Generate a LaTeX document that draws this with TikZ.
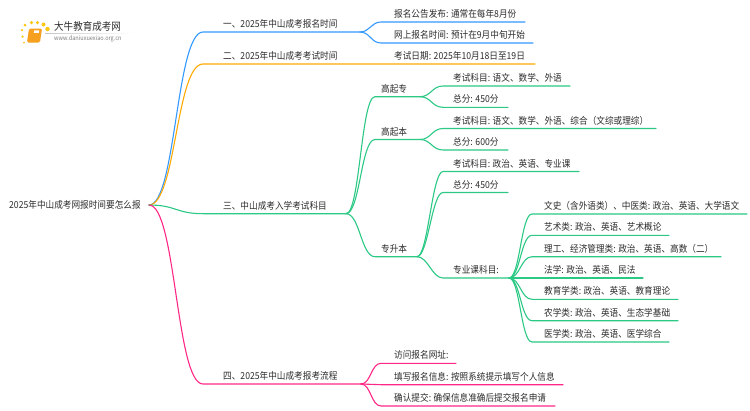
\documentclass[tikz,border=0pt]{standalone}
\usepackage{fontspec}
\setmainfont[FakeStretch=0.9]{Noto Sans CJK SC}
\usetikzlibrary{arrows}

\definecolor{lineblue}{RGB}{51,153,255}
\definecolor{lineorange}{RGB}{255,170,0}
\definecolor{linegreen}{RGB}{43,201,133}
\definecolor{linepink}{RGB}{255,40,135}
\definecolor{textgrey}{RGB}{45,45,45}
\definecolor{logoorange}{RGB}{245,160,30}

\tikzset{
  lbl/.style={anchor=west, inner sep=0pt, text=textgrey, font=\fontsize{9.6}{9.6}\selectfont},
  branch/.style={line width=1.1pt, line cap=round},
  sundot/.style={circle, inner sep=0pt, minimum size=#1, fill=logoorange!60!yellow}
}

\begin{document}
\begin{tikzpicture}[x=1pt,y=-1pt]

    \useasboundingbox (0,0) rectangle (750,410);
    \fill[white] (0,0) rectangle (750,410);

    % logo
    \foreach \name/\x/\y/\d in {s1/22/30/2.5pt, s2/25/25/3pt, s3/31.5/22.5/3.5pt, s4/37.5/22.5/3.5pt,
                                s5/43.5/24.5/4pt, s6/47.5/29/4.5pt, s7/22.5/36.5/2.5pt, s8/24/42.5/2pt}
      \node[sundot=\d] (\name) at (\x,\y) {};
    \node[draw=none,
          fill = logoorange,
          rounded corners = 1.5pt,
          xslant = 0.15,
          minimum width = 13pt,
          minimum height = 14pt,
          inner sep = 0pt] (book) at (34.5,35.5) {};
    \node[fill = white,
          xslant = 0.15,
          minimum width = 5pt,
          minimum height = 2.5pt,
          inner sep = 0pt] (bookmark) at (36.5,31.5) {};
    \node[lbl, font=\fontsize{10.6}{10.6}\selectfont] (logotext) at (54,26.5) {大牛教育成考网};
    \node[lbl, text=gray, font=\fontsize{6.2}{6.2}\selectfont] (logourl) at (54,38.5) {www.daniuxuexiao.org.cn};
    \coordinate (logol) at (45,33);
    \coordinate (logor) at (133,33);
    \shade[left color=gray!45, right color=white] (logol) rectangle ([yshift=-0.6pt]logor);

    % root
    \node[lbl] (root) at (9,205) {2025年中山成考网报时间要怎么报};
    \coordinate (rootr) at (149,205);

    % main branches
    \foreach \name/\y/\xs/\xe/\col/\txt in {
        one/32/203/360/lineblue/一、2025年中山成考报名时间,
        two/64/203/535/lineorange/二、2025年中山成考考试时间,
        three/213.7/203/346/linegreen/三、中山成考入学考试科目,
        four/384/203/361/linepink/四、2025年中山成考报考流程} {
      \node[lbl] (\name) at (223,\y-8) {\txt};
      \coordinate (\name s) at (\xs,\y);
      \coordinate (\name e) at (\xe,\y);
      \draw[branch,\col] (rootr) .. controls +(27,0) and +(-27,0) .. (\name s) -- (\name e);
    }
    \node[lbl] (exam) at (394,56) {考试日期: 2025年10月18日至19日};

    % first branch
    \foreach \name/\y/\xe/\txt in {
        notice/22/525/报名公告发布: 通常在每年8月份,
        online/43/533/网上报名时间: 预计在9月中旬开始} {
      \node[lbl] (\name) at (394,\y-8) {\txt};
      \coordinate (\name s) at (381,\y);
      \coordinate (\name e) at (\xe,\y);
      \draw[branch,lineblue] (onee) .. controls +(10,0) and +(-10,0) .. (\name s) -- (\name e);
    }

    % third branch
    \foreach \name/\y/\xe/\txt in {
        gqz/96.7/420/高起专,
        gqb/139.5/420/高起本,
        zsb/256.7/417/专升本} {
      \node[lbl] (\name) at (381,\y-8) {\txt};
      \coordinate (\name s) at (375,\y);
      \coordinate (\name e) at (\xe,\y);
      \draw[branch,linegreen] (threee) .. controls +(14,0) and +(-14,0) .. (\name s) -- (\name e);
    }

    \foreach \name/\from/\y/\xe/\txt in {
        gqza/gqze/86/570/考试科目: 语文、数学、外语,
        gqzb/gqze/107.3/508/总分: 450分,
        gqba/gqbe/128.5/656/考试科目: 语文、数学、外语、综合（文综或理综）,
        gqbb/gqbe/150/508/总分: 600分,
        zsba/zsbe/171.5/579/考试科目: 政治、英语、专业课,
        zsbb/zsbe/192.5/508/总分: 450分,
        zsbc/zsbe/278/509/专业课科目:} {
      \node[lbl] (\name) at (453,\y-8) {\txt};
      \coordinate (\name s) at (443,\y);
      \coordinate (\name e) at (\xe,\y);
      \draw[branch,linegreen] (\from) .. controls +(11,0) and +(-11,0) .. (\name s) -- (\name e);
    }

    \foreach \name/\y/\xe/\txt in {
        wenshi/214/747/文史（含外语类）、中医类: 政治、英语、大学语文,
        yishu/235.3/669/艺术类: 政治、英语、艺术概论,
        ligong/256.7/721/理工、经济管理类: 政治、英语、高数（二）,
        faxue/278/643/法学: 政治、英语、民法,
        jiaoyu/299.3/678/教育学类: 政治、英语、教育理论,
        nongxue/320.7/678/农学类: 政治、英语、生态学基础,
        yixue/342/669/医学类: 政治、英语、医学综合} {
      \node[lbl] (\name) at (544,\y-8) {\txt};
      \coordinate (\name s) at (532,\y);
      \coordinate (\name e) at (\xe,\y);
      \draw[branch,linegreen] (zsbce) .. controls +(11,0) and +(-11,0) .. (\name s) -- (\name e);
    }

    % fourth branch
    \foreach \name/\y/\xe/\txt in {
        visit/363.3/456/访问报名网址:,
        fill/384.7/563/填写报名信息: 按照系统提示填写个人信息,
        submit/406/555/确认提交: 确保信息准确后提交报名申请} {
      \node[lbl] (\name) at (394,\y-8) {\txt};
      \coordinate (\name s) at (381,\y);
      \coordinate (\name e) at (\xe,\y);
      \draw[branch,linepink] (foure) .. controls +(10,0) and +(-10,0) .. (\name s) -- (\name e);
    }

\end{tikzpicture}
\end{document}
